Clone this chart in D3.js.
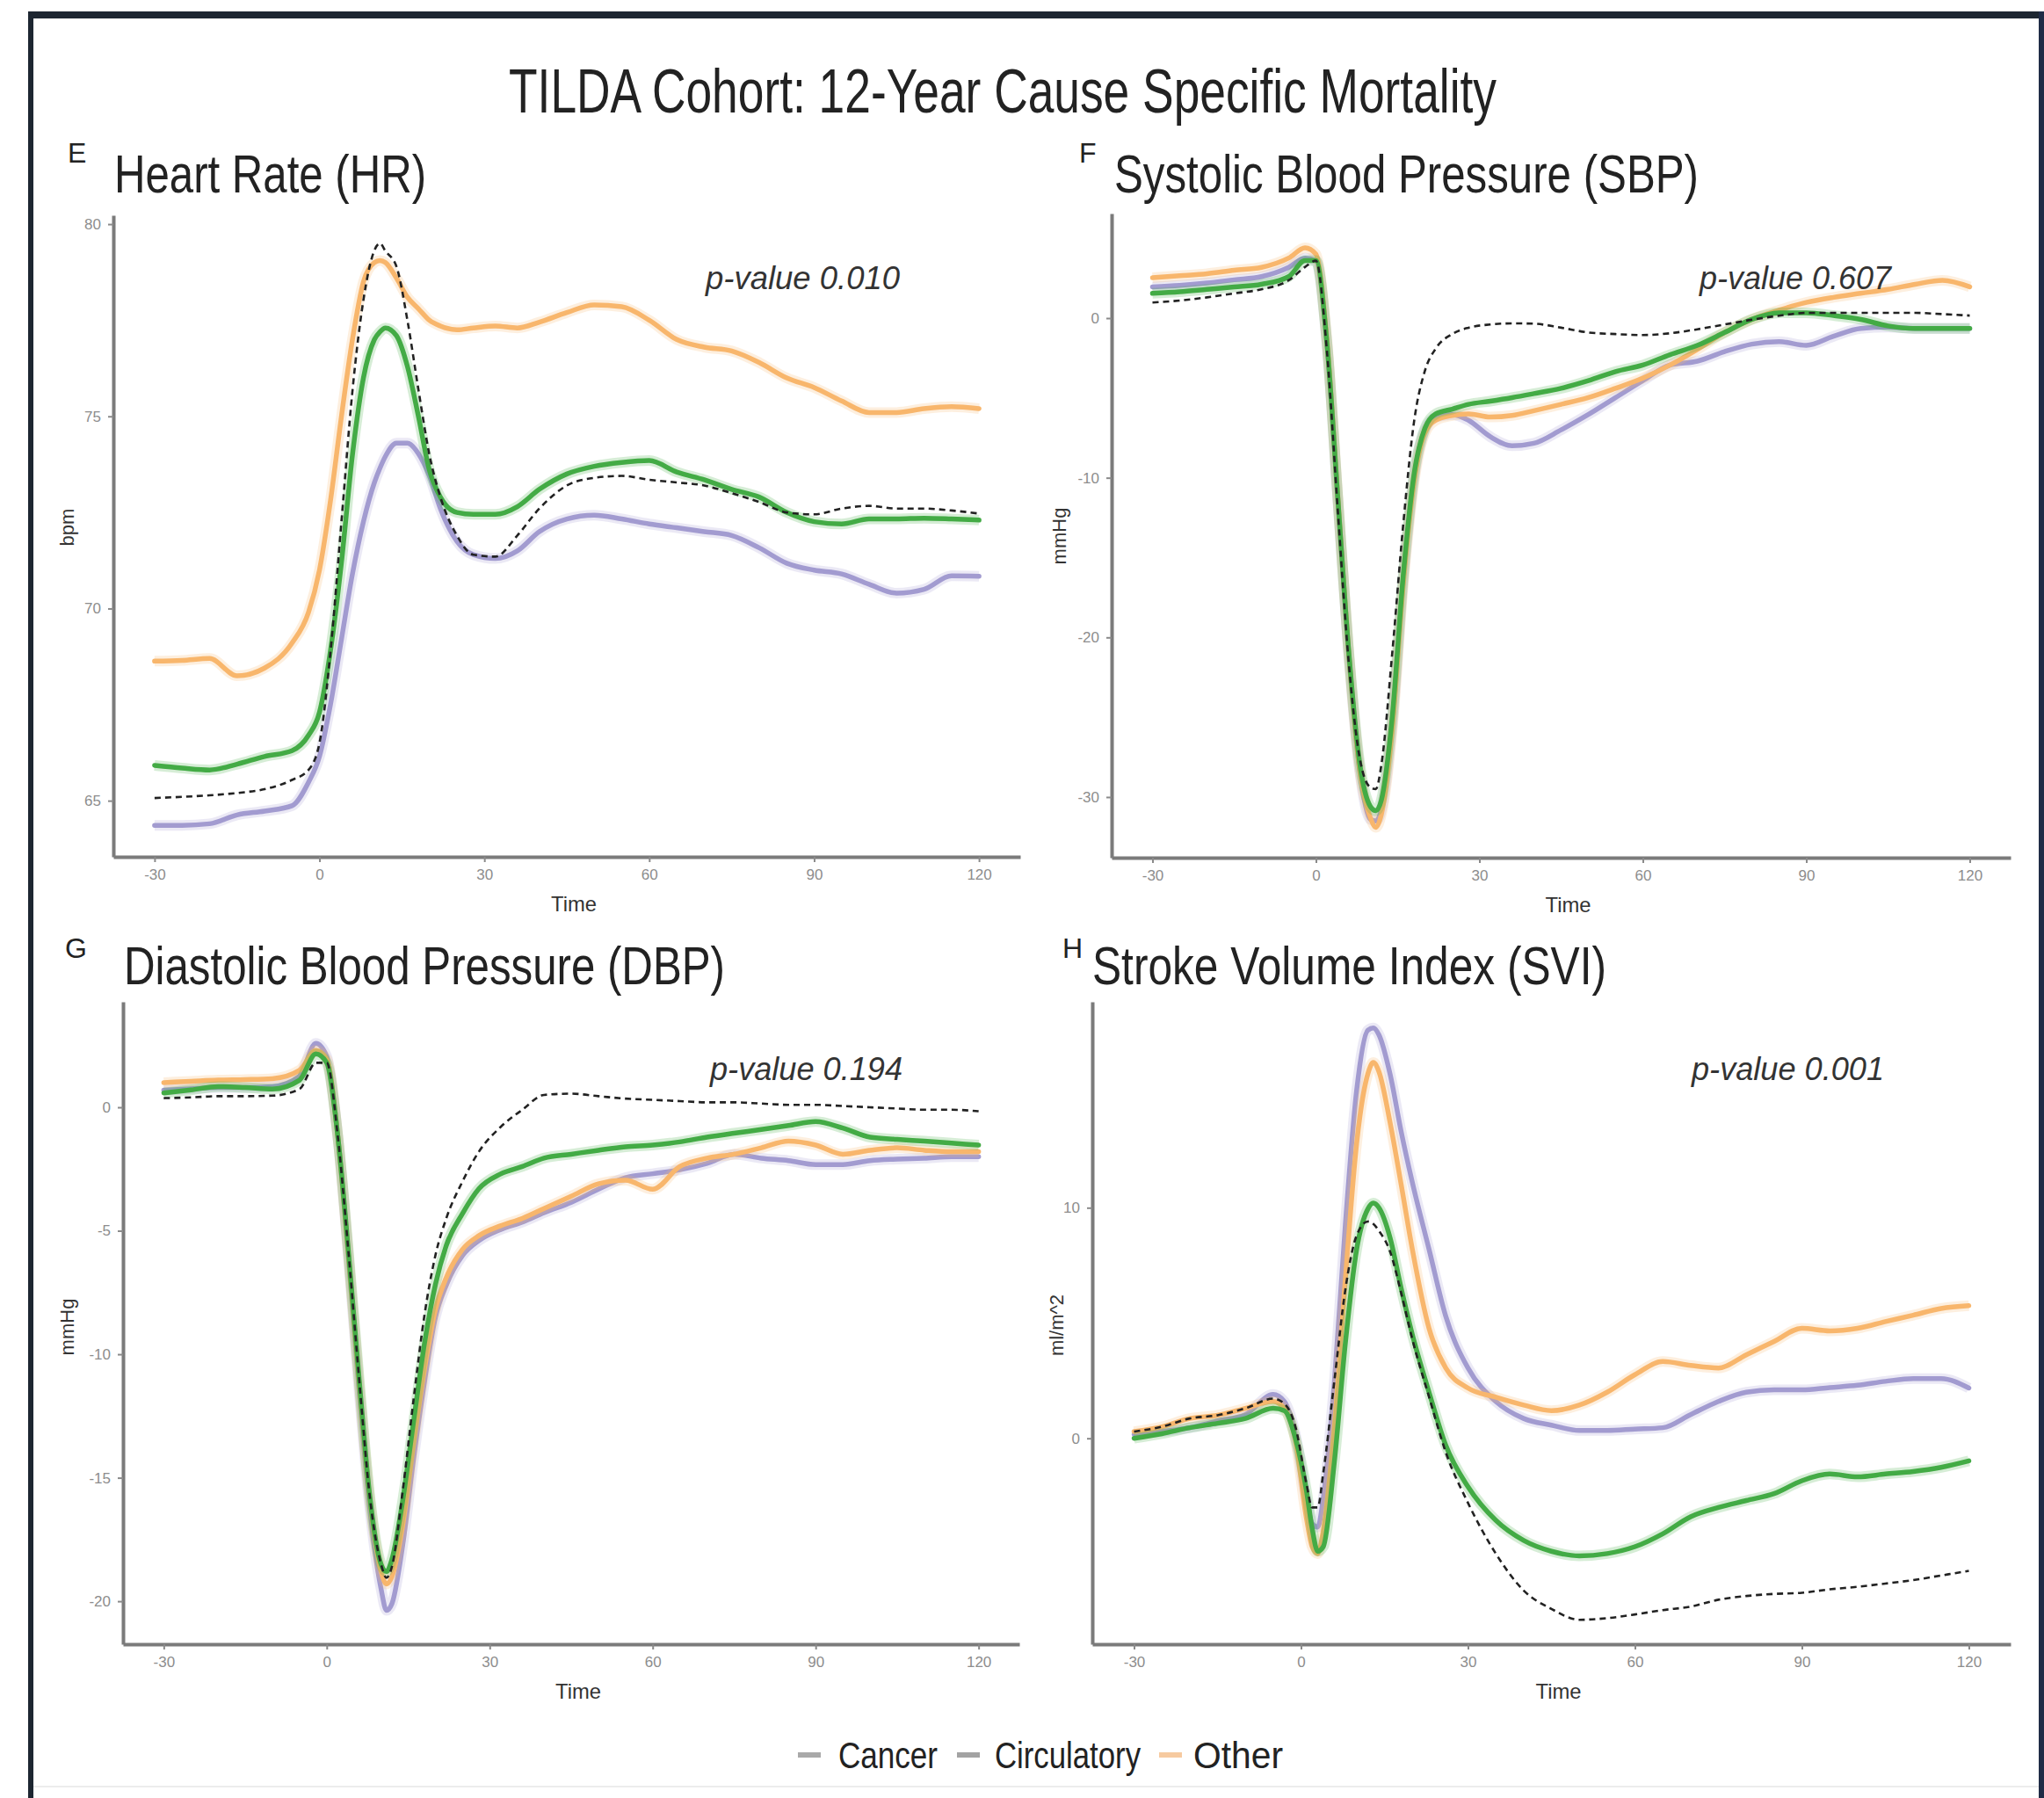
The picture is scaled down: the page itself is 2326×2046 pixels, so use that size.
<!DOCTYPE html>
<html>
<head>
<meta charset="utf-8">
<script src="https://cdn.jsdelivr.net/npm/d3@7"></script>
<style>
  body { margin: 0; background: #fff; }
  svg { display: block; }
  text { font-family: "Liberation Sans", Arial, sans-serif; }
</style>
</head>
<body>
<div id="chart"></div>
<script>
// time axis (seconds relative to stand)
const timeTicks = [-30, 0, 30, 60, 90, 120];
const tGrid = [-30, -25, -20, -15, -10, -5, -2, 0, 2, 4, 6, 8, 10, 11, 12, 14, 16, 18, 20, 22, 25, 28,
  32, 36, 40, 45, 50, 55, 60, 65, 70, 75, 80, 85, 90, 95, 100, 105, 110, 115, 120];
const tGridSvi = [-30, -25, -20, -15, -10, -5, -3, -1, 1, 2, 3, 4, 6, 8, 10, 12, 13, 14, 16, 18, 20, 23,
  26, 30, 35, 40, 45, 50, 55, 60, 65, 70, 75, 80, 85, 90, 95, 100, 105, 110, 115, 120];

const groups = ["Cancer", "Circulatory", "Other"];

// E - heart rate (bpm)
const hrCancer = [64.36, 64.36, 64.4, 64.63, 64.73, 64.87, 65.48, 66.15, 67.5, 69.2, 70.9, 72.26, 73.28, 73.65, 73.96,
  74.3, 74.3, 74.03, 73.45, 72.6, 71.75, 71.4, 71.3, 71.5, 72.0, 72.33, 72.43, 72.33, 72.2,
  72.1, 72.0, 71.9, 71.58, 71.18, 71.0, 70.9, 70.63, 70.4, 70.5, 70.85, 70.84];
const hrCirculatory = [65.92, 65.85, 65.8, 65.95, 66.15, 66.3, 66.7, 67.3, 68.9, 71.2, 74.0, 76.0, 77.0, 77.2, 77.3,
  77.1, 76.3, 75.0, 73.6, 72.9, 72.5, 72.45, 72.45, 72.65, 73.1, 73.5, 73.7, 73.8, 73.85,
  73.55, 73.35, 73.1, 72.9, 72.5, 72.26, 72.2, 72.33, 72.33, 72.35, 72.33, 72.3];
const hrOther = [68.63, 68.65, 68.7, 68.25, 68.45, 69.1, 69.9, 71.0, 72.8, 75.0, 77.0, 78.5, 79.0, 79.05, 79.0,
  78.6, 78.1, 77.8, 77.5, 77.35, 77.25, 77.3, 77.35, 77.3, 77.45, 77.7, 77.9, 77.85, 77.5,
  77.0, 76.8, 76.7, 76.4, 76.0, 75.75, 75.4, 75.1, 75.1, 75.2, 75.25, 75.2];
const hrAlive = [65.07, 65.1, 65.14, 65.2, 65.3, 65.54, 65.8, 66.5, 68.87, 72.26, 75.66, 78.03, 79.32, 79.5, 79.3,
  78.9, 77.5, 75.7, 74.0, 72.9, 71.9, 71.4, 71.35, 71.9, 72.6, 73.2, 73.4, 73.45, 73.35,
  73.28, 73.2, 73.0, 72.77, 72.5, 72.45, 72.6, 72.67, 72.6, 72.6, 72.55, 72.47];

// F - systolic blood pressure (mmHg change)
const sbpCancer = [1.96, 2.05, 2.2, 2.4, 2.6, 3.18, 3.76, 3.6, -1.5, -11.3, -21.0, -28.3, -31.4, -31.5, -30.8,
  -25.5, -16.5, -10.0, -7.0, -6.2, -6.04, -6.4, -7.43, -8.0, -7.84, -7.0, -6.04, -4.98, -3.92,
  -2.94, -2.7, -2.1, -1.63, -1.47, -1.71, -1.14, -0.65, -0.57, -0.65, -0.65, -0.65];
const sbpCirculatory = [1.55, 1.65, 1.8, 1.95, 2.12, 2.6, 3.6, 3.6, -1.5, -11.2, -20.8, -27.8, -30.6, -30.86, -30.2,
  -25.0, -16.2, -9.8, -6.9, -6.0, -5.7, -5.4, -5.2, -4.98, -4.73, -4.4, -3.92, -3.35, -2.94,
  -2.29, -1.71, -0.9, -0.08, 0.33, 0.33, 0.16, -0.08, -0.49, -0.65, -0.65, -0.65];
const sbpOther = [2.53, 2.65, 2.78, 3.0, 3.18, 3.76, 4.4, 4.0, -1.3, -11.1, -20.9, -28.2, -31.3, -31.9, -31.1,
  -25.8, -16.8, -10.3, -7.2, -6.4, -6.1, -6.0, -6.2, -6.1, -5.8, -5.4, -4.98, -4.4, -3.76,
  -2.94, -1.96, -0.9, -0.08, 0.5, 0.98, 1.3, 1.55, 1.8, 2.12, 2.37, 1.96];
const sbpAlive = [0.98, 1.1, 1.3, 1.55, 1.8, 2.37, 3.2, 3.6, -2.0, -12.0, -21.5, -27.5, -29.4, -29.5, -28.0,
  -21.0, -13.0, -6.5, -3.3, -1.9, -1.0, -0.6, -0.4, -0.33, -0.35, -0.6, -0.9, -1.0, -1.06,
  -0.95, -0.7, -0.4, -0.1, 0.15, 0.33, 0.33, 0.33, 0.33, 0.33, 0.25, 0.16];

// G - diastolic blood pressure (mmHg change)
const dbpCancer = [0.69, 0.75, 0.8, 0.8, 0.84, 1.27, 2.59, 2.06, -1.1, -6.1, -11.6, -16.4, -19.5, -20.37, -20.1,
  -17.7, -14.2, -11.1, -8.5, -7.2, -6.0, -5.4, -4.95, -4.65, -4.27, -3.85, -3.32, -2.85, -2.69,
  -2.53, -2.27, -1.9, -2.06, -2.16, -2.32, -2.32, -2.16, -2.1, -2.06, -2.0, -2.0];
const dbpCirculatory = [0.58, 0.7, 0.84, 0.8, 0.74, 1.1, 2.16, 1.8, -1.1, -5.86, -11.1, -15.9, -18.5, -18.8, -18.3,
  -15.9, -12.7, -9.55, -7.18, -5.6, -4.3, -3.3, -2.7, -2.4, -2.06, -1.9, -1.74, -1.6, -1.53,
  -1.4, -1.21, -1.05, -0.9, -0.74, -0.58, -0.84, -1.21, -1.3, -1.37, -1.45, -1.53];
const dbpOther = [1.0, 1.05, 1.1, 1.12, 1.16, 1.5, 2.3, 1.95, -1.1, -6.0, -11.3, -16.0, -18.8, -19.3, -19.0,
  -16.9, -13.6, -10.6, -8.2, -6.9, -5.75, -5.2, -4.8, -4.5, -4.1, -3.6, -3.1, -2.95, -3.32,
  -2.4, -2.06, -1.9, -1.64, -1.37, -1.53, -1.9, -1.74, -1.64, -1.74, -1.8, -1.8];
const dbpAlive = [0.37, 0.4, 0.45, 0.45, 0.47, 0.74, 1.8, 1.8, -1.1, -5.86, -11.1, -15.9, -18.5, -19.05, -18.6,
  -15.5, -11.8, -8.4, -6.0, -4.5, -3.0, -1.8, -0.8, -0.1, 0.5, 0.55, 0.45, 0.35, 0.3,
  0.25, 0.2, 0.2, 0.15, 0.1, 0.1, 0.05, 0.0, -0.05, -0.1, -0.1, -0.16];

// H - stroke volume index (ml/m^2 change)
const sviCancer = [0.17, 0.3, 0.46, 0.75, 1.03, 1.9, 1.6, 0.17, -2.7, -3.7, -3.85, -2.6, 2.47, 9.37, 15.1,
  17.7, 17.8, 17.5, 15.8, 13.3, 11.1, 8.2, 5.3, 3.05, 1.6, 0.86, 0.57, 0.34, 0.34,
  0.4, 0.46, 1.03, 1.6, 2.0, 2.1, 2.1, 2.2, 2.3, 2.47, 2.59, 2.59, 2.18];
const sviCirculatory = [0.0, 0.2, 0.46, 0.65, 0.86, 1.3, 1.2, 0.0, -2.3, -3.9, -4.9, -4.7, -1.0, 4.2, 8.2,
  9.94, 10.2, 10.0, 8.7, 6.5, 4.5, 2.0, -0.3, -2.1, -3.56, -4.43, -4.9, -5.1, -5.0,
  -4.7, -4.14, -3.4, -3.0, -2.7, -2.4, -1.84, -1.55, -1.67, -1.55, -1.44, -1.26, -0.98];
const sviOther = [0.29, 0.5, 0.86, 1.0, 1.3, 1.6, 1.3, -0.1, -3.5, -4.7, -5.0, -4.0, 0.5, 7.0, 12.8,
  15.8, 16.3, 15.9, 13.7, 11.0, 8.2, 4.77, 3.05, 2.18, 1.78, 1.44, 1.2, 1.44, 2.0,
  2.76, 3.33, 3.16, 3.05, 3.62, 4.2, 4.77, 4.66, 4.77, 5.06, 5.34, 5.63, 5.75];
const sviAlive = [0.29, 0.5, 0.86, 1.0, 1.3, 1.72, 1.5, 0.5, -2.0, -3.0, -3.0, -1.5, 2.5, 6.5, 8.8,
  9.4, 9.3, 9.0, 8.1, 6.3, 4.3, 1.8, -0.6, -2.8, -5.0, -6.6, -7.4, -7.87, -7.8,
  -7.64, -7.45, -7.3, -7.0, -6.84, -6.75, -6.7, -6.55, -6.44, -6.3, -6.15, -5.95, -5.75];

const colors = { Cancer: "#a29bd0", Circulatory: "#43ab45", Other: "#f8b66c" };
const legendKeyColors = ["#a9a9a9", "#a3a3a3", "#f6caa0"];

const width = 2326;
const height = 2046;

const svg = d3.select("#chart").append("svg")
  .attr("width", width)
  .attr("height", height);

svg.append("rect").attr("width", width).attr("height", height).attr("fill", "#fff");

// dark frame of the original figure
svg.append("rect").attr("x", 32).attr("y", 13).attr("width", 2294).attr("height", 8).attr("fill", "#1d2631");
svg.append("rect").attr("x", 32).attr("y", 13).attr("width", 6).attr("height", 2033).attr("fill", "#1d2631");
svg.append("rect").attr("x", 2320).attr("y", 13).attr("width", 6).attr("height", 2033).attr("fill", "#1f2b46");
svg.append("line").attr("x1", 38).attr("x2", 2320).attr("y1", 2033).attr("y2", 2033)
  .attr("stroke", "#ececec").attr("stroke-width", 2);

// squeezed text helper (the figure's lettering is narrow)
function label(x, y, str, size, len, opts = {}) {
  const t = svg.append("text")
    .attr("x", x).attr("y", y)
    .attr("font-size", size)
    .attr("fill", opts.fill || "#222")
    .text(str);
  if (len) t.attr("textLength", len).attr("lengthAdjust", "spacingAndGlyphs");
  if (opts.italic) t.attr("font-style", "italic");
  if (opts.anchor) t.attr("text-anchor", opts.anchor);
  return t;
}

label(579, 128, "TILDA Cohort: 12-Year Cause Specific Mortality", 70, 1124);

const panels = [
  {
    letter: "E", title: "Heart Rate (HR)", pval: "p-value 0.010", ylab: "bpm",
    times: tGrid, series: [hrCancer, hrCirculatory, hrOther], alive: hrAlive,
    yTicks: [65, 70, 75, 80], yDomain: [63.54, 80.23],
    xr: [129, 1161], yr: [975, 245],
    letterPos: [77, 185], titlePos: [130, 219, 355], pPos: [803, 329, 221], ylabPos: [77, 600]
  },
  {
    letter: "F", title: "Systolic Blood Pressure (SBP)", pval: "p-value 0.607", ylab: "mmHg",
    times: tGrid, series: [sbpCancer, sbpCirculatory, sbpOther], alive: sbpAlive,
    yTicks: [-30, -20, -10, 0], yDomain: [-33.8, 6.55],
    xr: [1265, 2288], yr: [976, 243],
    letterPos: [1228, 185], titlePos: [1268, 219, 665], pPos: [1934, 329, 218], ylabPos: [1206, 610]
  },
  {
    letter: "G", title: "Diastolic Blood Pressure (DBP)", pval: "p-value 0.194", ylab: "mmHg",
    times: tGrid, series: [dbpCancer, dbpCirculatory, dbpOther], alive: dbpAlive,
    yTicks: [-20, -15, -10, -5, 0], yDomain: [-21.74, 4.27],
    xr: [140, 1160], yr: [1871, 1140],
    letterPos: [74, 1090], titlePos: [141, 1120, 684], pPos: [808, 1229, 219], ylabPos: [77, 1510]
  },
  {
    letter: "H", title: "Stroke Volume Index (SVI)", pval: "p-value 0.001", ylab: "ml/m^2",
    times: tGridSvi, series: [sviCancer, sviCirculatory, sviOther], alive: sviAlive,
    yTicks: [0, 10], yDomain: [-8.93, 18.93],
    xr: [1243, 2288], yr: [1871, 1140],
    letterPos: [1209, 1090], titlePos: [1243, 1120, 585], pPos: [1925, 1229, 219], ylabPos: [1203, 1508]
  }
];

// draw order: purple, orange, green, dashed
const drawOrder = [0, 2, 1];

panels.forEach((p) => {
  const x = d3.scaleLinear().domain([-37.5, 127.5]).range(p.xr);
  const y = d3.scaleLinear().domain(p.yDomain).range(p.yr);
  const g = svg.append("g");

  const line = d3.line()
    .x((d) => x(d[0]))
    .y((d) => y(d[1]))
    .curve(d3.curveMonotoneX);

  drawOrder.forEach((i) => {
    const pts = p.times.map((t, k) => [t, p.series[i][k]]);
    const col = colors[groups[i]];
    g.append("path").attr("d", line(pts)).attr("fill", "none")
      .attr("stroke", col).attr("stroke-opacity", 0.22).attr("stroke-width", 12)
      .attr("stroke-linejoin", "round");
    g.append("path").attr("d", line(pts)).attr("fill", "none")
      .attr("stroke", col).attr("stroke-width", 5.5)
      .attr("stroke-linejoin", "round").attr("stroke-linecap", "round");
  });

  g.append("path")
    .attr("d", line(p.times.map((t, k) => [t, p.alive[k]])))
    .attr("fill", "none").attr("stroke", "#222").attr("stroke-width", 2.6)
    .attr("stroke-dasharray", "7,5");

  // axes
  const xAxis = g.append("g")
    .attr("transform", `translate(0,${p.yr[0]})`)
    .call(d3.axisBottom(x).tickValues(timeTicks).tickFormat((d) => String(d))
      .tickSize(6).tickSizeOuter(0).tickPadding(8));
  const yAxis = g.append("g")
    .attr("transform", `translate(${p.xr[0]},0)`)
    .call(d3.axisLeft(y).tickValues(p.yTicks).tickFormat((d) => String(d))
      .tickSize(6).tickSizeOuter(0).tickPadding(8));

  [xAxis, yAxis].forEach((a) => {
    a.select(".domain").attr("stroke", "#7b7b7b").attr("stroke-width", 4);
    a.selectAll(".tick line").attr("stroke", "#8a8a8a").attr("stroke-width", 2);
    a.selectAll(".tick text")
      .attr("font-family", "Liberation Sans, Arial, sans-serif")
      .attr("font-size", 17).attr("fill", "#8d8d8d");
  });

  label(p.letterPos[0], p.letterPos[1], p.letter, 32, null);
  label(p.titlePos[0], p.titlePos[1], p.title, 62, p.titlePos[2]);
  label(p.pPos[0], p.pPos[1], p.pval, 36, p.pPos[2], { italic: true, fill: "#333" });

  label((p.xr[0] + p.xr[1]) / 2 + 8, p.yr[0] + 62, "Time", 24, 52, { anchor: "middle", fill: "#333" });

  svg.append("text")
    .attr("transform", `translate(${p.ylabPos[0] + 7},${p.ylabPos[1]}) rotate(-90)`)
    .attr("text-anchor", "middle")
    .attr("font-size", 22)
    .attr("fill", "#333")
    .text(p.ylab);
});

// legend
const legendX = [908, 1089, 1319];
const legendTextX = [954, 1132, 1358];
const legendLen = [113, 166, 102];
groups.forEach((name, i) => {
  svg.append("line")
    .attr("x1", legendX[i]).attr("x2", legendX[i] + 26)
    .attr("y1", 1997).attr("y2", 1997)
    .attr("stroke", legendKeyColors[i]).attr("stroke-width", 6);
  label(legendTextX[i], 2012, name, 42, legendLen[i], { fill: "#222" });
});
</script>
</body>
</html>
